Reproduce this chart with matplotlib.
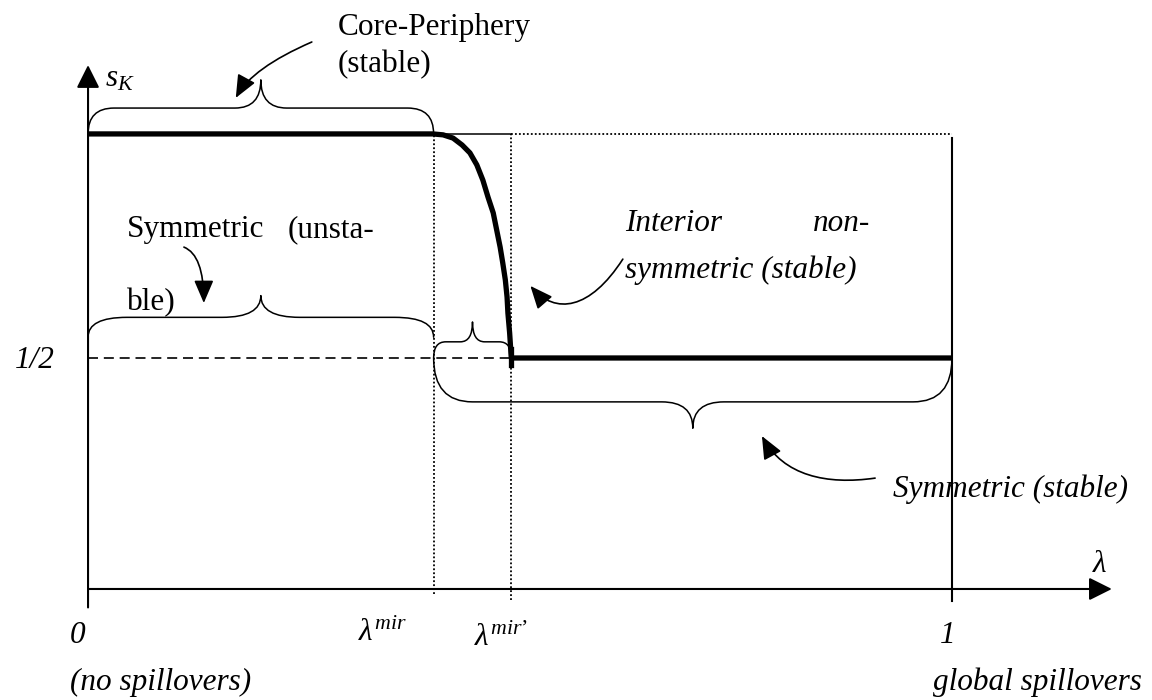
import numpy as np
import matplotlib.pyplot as plt
from matplotlib.patches import FancyArrowPatch
from matplotlib.path import Path

plt.rcParams['font.family'] = ['Liberation Serif', 'DejaVu Serif']
plt.rcParams['mathtext.fontset'] = 'custom'
plt.rcParams['mathtext.rm'] = 'Liberation Serif'
plt.rcParams['mathtext.it'] = 'Liberation Serif:italic'

# values
lam_mir = 0.40
lam_mir2 = 0.49
s_core = 0.985
s_half = 0.5
# the falling branch between lam_mir and lam_mir'
curve_lam = [0.399, 0.411, 0.4225, 0.433, 0.442, 0.450, 0.457, 0.463, 0.469, 0.473, 0.477,
             0.480, 0.483, 0.485, 0.486, 0.488, 0.4895, 0.490]
curve_s = [0.985, 0.983, 0.976, 0.961, 0.944, 0.918, 0.885, 0.848, 0.814, 0.777, 0.740,
           0.706, 0.669, 0.632, 0.597, 0.554, 0.511, 0.500]

FS = 22.5


def brace(ax, x0, x1, y, flat, tip, r_end, r_tip, lw=1.1):
    """ curly brace from x0 to x1 at level y, flat part at y+flat, point at y+tip """
    xm = (x0 + x1) / 2
    yf = y + flat
    yt = y + tip
    verts = [(x0, y), (x0, yf), (x0 + r_end, yf),
             (xm - r_tip, yf), (xm, yf), (xm, yt),
             (xm, yf), (xm + r_tip, yf),
             (x1 - r_end, yf), (x1, yf), (x1, y)]
    codes = [Path.MOVETO, Path.CURVE3, Path.CURVE3,
             Path.LINETO, Path.CURVE3, Path.CURVE3,
             Path.CURVE3, Path.CURVE3,
             Path.LINETO, Path.CURVE3, Path.CURVE3]
    ax.add_patch(FancyArrowPatch(path=Path(verts, codes), arrowstyle='-', lw=lw, color='black'))


def curved_arrow(ax, verts, kind):
    codes = [Path.MOVETO] + [kind] * (len(verts) - 1)
    ax.add_patch(FancyArrowPatch(path=Path(verts, codes),
                                 arrowstyle='-|>,head_length=14,head_width=6',
                                 mutation_scale=1, lw=1.2, color='black'))


fig = plt.figure(figsize=(11.52, 7), dpi=100)
ax = fig.add_axes([0, 0, 1, 1])
ax.set_xlim(-0.1019, 1.2315)
ax.set_ylim(-0.2403, 1.2749)
ax.axis('off')

# axes with arrow heads
ax.add_patch(FancyArrowPatch((0, -0.04), (0, 1.134), arrowstyle='-|>,head_length=14,head_width=7',
                             mutation_scale=1, lw=1.5, color='black', shrinkA=0, shrinkB=0))
ax.add_patch(FancyArrowPatch((0, 0), (1.185, 0), arrowstyle='-|>,head_length=14,head_width=7',
                             mutation_scale=1, lw=1.5, color='black', shrinkA=0, shrinkB=0))

# guide lines
dots = (0, (1, 1.2))
ax.plot([lam_mir, lam_mir], [-0.011, s_core], color='black', lw=1.3, ls=dots)
ax.plot([lam_mir2, lam_mir2], [-0.024, s_core], color='black', lw=1.3, ls=dots)
ax.plot([lam_mir2, 1], [s_core, s_core], color='black', lw=1.3, ls=dots)
ax.plot([lam_mir, lam_mir2], [s_core, s_core], color='black', lw=1.1)
ax.plot([1, 1], [-0.025, s_core - 0.009], color='black', lw=1.5)
ax.plot([0, lam_mir2], [s_half, s_half], color='black', lw=1.2, ls=(0, (6, 3.5)))

# equilibrium branch
branch_lam = [0] + curve_lam + [1]
branch_s = [s_core] + curve_s + [s_half]
ax.plot(branch_lam, branch_s, color='black', lw=3.8, solid_joinstyle='round', solid_capstyle='butt')
ax.plot([lam_mir2, lam_mir2], [s_half - 0.015, s_half + 0.02], color='black', lw=3.8)

# braces
brace(ax, 0, lam_mir, s_core, 0.056, 0.117, 0.03, 0.03)
brace(ax, 0, lam_mir, s_half + 0.045, 0.043, 0.09, 0.045, 0.045)
brace(ax, lam_mir, lam_mir2, s_half, 0.035, 0.078, 0.014, 0.014)
brace(ax, lam_mir, 1, s_half, -0.095, -0.152, 0.045, 0.036)

# annotation arrows
curved_arrow(ax, [(0.259, 1.184), (0.190, 1.128), (0.171, 1.063)], Path.CURVE3)
curved_arrow(ax, [(0.111, 0.740), (0.134, 0.723), (0.134, 0.619)], Path.CURVE3)
curved_arrow(ax, [(0.619, 0.714), (0.581, 0.604), (0.541, 0.593), (0.512, 0.656)], Path.CURVE4)
curved_arrow(ax, [(0.911, 0.240), (0.855, 0.225), (0.805, 0.245), (0.780, 0.331)], Path.CURVE4)

# text
kw = dict(fontsize=FS, va='baseline', ha='left')
ax.text(0.289, 1.199, 'Core-Periphery', **kw)
ax.text(0.289, 1.119, '(stable)', **kw)
ax.text(0.020, 1.087, r'$s_K$', **kw)
ax.text(0.045, 0.762, 'Symmetric', **kw)
ax.text(0.2315, 0.762, '(unsta-', **kw)
ax.text(0.045, 0.604, 'ble)', **kw)
ax.text(0.6215, 0.775, 'Interior', style='italic', **kw)
ax.text(0.905, 0.775, 'non-', style='italic', fontsize=FS, va='baseline', ha='right')
ax.text(0.6215, 0.673, 'symmetric (stable)', style='italic', **kw)
ax.text(-0.0845, 0.478, '1/2', style='italic', **kw)
ax.text(0.9317, 0.199, 'Symmetric (stable)', style='italic', **kw)
ax.text(1.162, 0.037, r'$\lambda$', **kw)
ax.text(-0.0208, -0.117, '0', style='italic', **kw)
ax.text(0.3125, -0.112, r'$\lambda^{mir}$', **kw)
ax.text(0.4468, -0.124, '$\\lambda^{mir\u2019}$', **kw)
ax.text(0.986, -0.117, '1', style='italic', **kw)
ax.text(-0.0208, -0.2186, '(no spillovers)', style='italic', **kw)
ax.text(0.978, -0.2186, 'global spillovers', style='italic', **kw)

fig.savefig('out.png', dpi=100)
